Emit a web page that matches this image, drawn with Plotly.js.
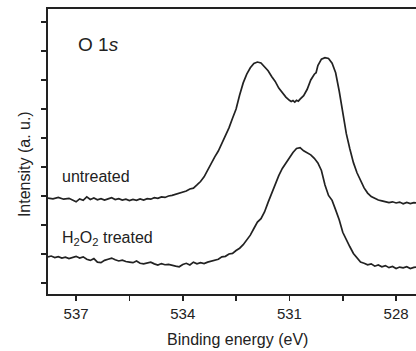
<!DOCTYPE html>
<html><head><meta charset="utf-8">
<script src="https://cdn.plot.ly/plotly-3.0.1.min.js"></script>
<style>html,body{margin:0;padding:0;background:#fff;}#chart{width:416px;height:351px;}</style>
</head><body><div id="chart"></div>
<script>
// Binding energy (eV) and intensity (arbitrary units, offset curves)
const untreatedEnergy = [537.79,537.65,537.5,537.35,537.2,537.1,537.0,536.9,536.8,536.7,536.6,536.5,536.4,536.3,536.2,536.1,536.0,535.9,535.8,535.7,535.6,535.5,535.4,535.3,535.2,535.1,535.0,534.9,534.8,534.7,534.6,534.5,534.4,534.3,534.2,534.1,534.0,533.9,533.8,533.7,533.6,533.5,533.4,533.3,533.2,533.1,533.0,532.9,532.8,532.7,532.6,532.5,532.4,532.3,532.2,532.1,532.0,531.9,531.8,531.7,531.6,531.5,531.4,531.3,531.2,531.1,531.0,530.95,530.9,530.85,530.8,530.75,530.7,530.6,530.5,530.4,530.3,530.25,530.2,530.1,530.0,529.9,529.8,529.7,529.6,529.5,529.4,529.3,529.2,529.1,529.0,528.9,528.8,528.7,528.6,528.5,528.4,528.3,528.2,528.1,528.0,527.9,527.8,527.7,527.6,527.5,527.44];
const untreatedIntensity = [3.93,3.90,3.95,3.89,3.92,3.86,3.80,3.90,3.85,3.97,3.88,3.93,3.87,3.91,3.86,3.90,3.94,3.88,3.91,3.86,3.89,3.84,3.88,3.85,3.90,3.86,3.91,3.89,3.94,3.92,3.97,3.95,4.00,4.02,4.06,4.08,4.14,4.17,4.24,4.27,4.38,4.50,4.66,4.90,5.10,5.35,5.55,5.82,6.05,6.35,6.68,7.00,7.48,7.90,8.20,8.42,8.57,8.62,8.59,8.47,8.32,8.12,7.95,7.72,7.56,7.41,7.30,7.26,7.29,7.24,7.30,7.27,7.34,7.46,7.68,8.00,8.20,8.25,8.50,8.72,8.77,8.74,8.58,8.25,7.62,6.92,6.15,5.62,5.15,4.80,4.52,4.28,4.10,3.98,3.92,3.86,3.83,3.80,3.77,3.80,3.76,3.79,3.73,3.78,3.74,3.77,3.76];

const treatedEnergy = [537.79,537.7,537.6,537.5,537.4,537.3,537.2,537.1,537.0,536.9,536.8,536.7,536.6,536.5,536.4,536.3,536.2,536.1,536.0,535.9,535.8,535.7,535.6,535.5,535.4,535.3,535.2,535.1,535.0,534.9,534.8,534.7,534.6,534.5,534.4,534.3,534.2,534.1,534.0,533.9,533.8,533.7,533.6,533.5,533.4,533.3,533.2,533.1,533.0,532.9,532.8,532.7,532.6,532.5,532.4,532.3,532.2,532.1,532.0,531.9,531.8,531.7,531.6,531.5,531.4,531.3,531.2,531.1,531.0,530.9,530.8,530.7,530.6,530.5,530.4,530.3,530.2,530.1,530.0,529.9,529.8,529.7,529.6,529.5,529.4,529.3,529.2,529.1,529.0,528.9,528.8,528.7,528.6,528.5,528.4,528.3,528.2,528.1,528.0,527.9,527.8,527.7,527.6,527.5,527.44];
const treatedIntensity = [1.90,1.93,1.88,1.91,1.86,1.89,1.84,1.88,1.92,1.86,1.90,1.82,1.78,1.84,1.72,1.70,1.78,1.82,1.86,1.80,1.76,1.79,1.74,1.72,1.70,1.76,1.68,1.66,1.70,1.72,1.66,1.62,1.67,1.63,1.64,1.60,1.58,1.56,1.64,1.68,1.62,1.72,1.66,1.70,1.67,1.72,1.75,1.80,1.82,1.90,1.92,2.00,2.02,2.12,2.20,2.32,2.47,2.65,2.88,3.10,3.22,3.45,3.78,4.10,4.42,4.70,4.95,5.15,5.32,5.50,5.64,5.67,5.56,5.50,5.42,5.30,5.14,4.88,4.38,4.02,3.85,3.52,3.18,2.75,2.48,2.25,2.02,1.85,1.72,1.68,1.63,1.66,1.58,1.62,1.56,1.60,1.53,1.57,1.50,1.55,1.52,1.56,1.50,1.54,1.55];

const xTickVals = [537, 534, 531, 528];
const xTickText = ['537', '534', '531', '528'];
const xMinorTickVals = [535.5, 532.5, 529.5];
const yTickVals = [1,2,3,4,5,6,7,8,9,10];

const ink = '#222';
const font = 'Liberation Sans, Arial, Helvetica, sans-serif';

const traces = [
  {x: untreatedEnergy, y: untreatedIntensity, mode: 'lines', line: {color: ink, width: 1.7}, hoverinfo: 'skip'},
  {x: treatedEnergy, y: treatedIntensity, mode: 'lines', line: {color: ink, width: 1.7}, hoverinfo: 'skip'}
];

const layout = {
  width: 416, height: 351,
  margin: {l: 48, r: 0, t: 9, b: 57},
  paper_bgcolor: '#fff', plot_bgcolor: '#fff',
  showlegend: false,
  font: {family: font, color: ink, size: 15},
  xaxis: {
    range: [537.79, 527.44], autorange: false,
    showgrid: false, zeroline: false,
    showline: true, linecolor: ink, linewidth: 1.8, mirror: true,
    ticks: 'outside', ticklen: 5, tickwidth: 1.5, tickcolor: ink,
    tickmode: 'array', tickvals: xTickVals, ticktext: xTickText,
    tickfont: {family: font, size: 15, color: ink},
    minor: {tickmode: 'array', tickvals: xMinorTickVals, ticks: 'outside', ticklen: 5, tickwidth: 1.5, tickcolor: ink, showgrid: false}
  },
  yaxis: {
    range: [0.621, 10.448], autorange: false,
    showgrid: false, zeroline: false,
    showline: true, linecolor: ink, linewidth: 1.8, mirror: false,
    ticks: 'outside', ticklen: 5, tickwidth: 1.5, tickcolor: ink,
    tickmode: 'array', tickvals: yTickVals, showticklabels: false
  },
  annotations: [
    {text: 'O 1<i>s</i>', x: 537.0, y: 9.21, xref: 'x', yref: 'y', xanchor: 'left', yanchor: 'middle', showarrow: false, font: {family: font, size: 19, color: ink}},
    {text: 'untreated', x: 537.45, y: 4.66, xref: 'x', yref: 'y', xanchor: 'left', yanchor: 'middle', showarrow: false, font: {family: font, size: 16, color: ink}},
    {text: 'H<sub>2</sub>O<sub>2</sub> treated', x: 537.45, y: 2.55, xref: 'x', yref: 'y', xanchor: 'left', yanchor: 'middle', showarrow: false, font: {family: font, size: 16, color: ink}},
    {text: 'Intensity (a. u.)', x: -0.065, y: 0.456, xref: 'paper', yref: 'paper', xanchor: 'center', yanchor: 'middle', textangle: -90, showarrow: false, font: {family: font, size: 16, color: ink}},
    {text: 'Binding energy (eV)', x: 0.514, y: -0.161, xref: 'paper', yref: 'paper', xanchor: 'center', yanchor: 'middle', showarrow: false, font: {family: font, size: 16, color: ink}}
  ]
};

Plotly.newPlot('chart', traces, layout, {staticPlot: true, displayModeBar: false});
</script>
</body></html>
